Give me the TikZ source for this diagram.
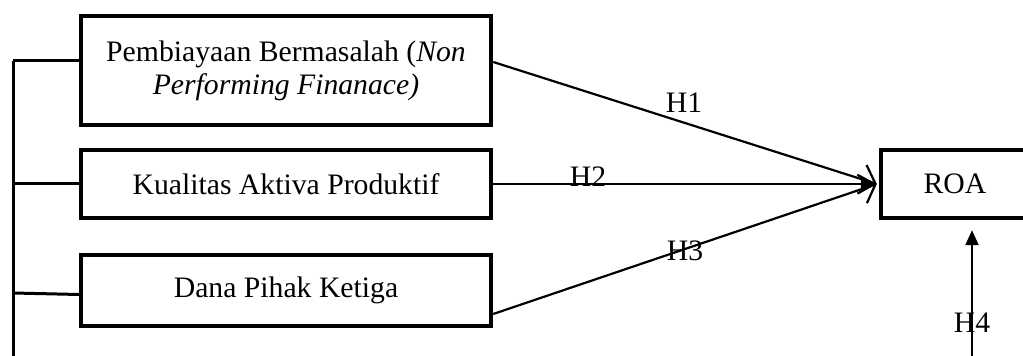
\documentclass[tikz,border=0pt]{standalone}
\usepackage{fontspec}
\setmainfont{Liberation Serif}
\usetikzlibrary{arrows.meta,calc}
\begin{document}
\begin{tikzpicture}[x=0.5pt,y=-0.5pt,
  font=\fontsize{14.85}{16.5}\selectfont,
  varbox/.style={draw,line width=2.2pt,rectangle,align=center,inner sep=0pt,outer sep=1.1pt},
  bus/.style={line width=1.5pt},
  hyp/.style={line width=1.1pt},
  openhead/.style={hyp,-{Straight Barb[length=7pt,width=15pt,line width=1.1pt]}},
  fullhead/.style={hyp,-{Latex[length=8pt,width=5pt]}},
  h4head/.style={hyp,-{Triangle[length=7.5pt,width=6.5pt]}},
  lab/.style={anchor=base,inner sep=0pt}]
\useasboundingbox (0,0) rectangle (1023,356);
\clip (0,0) rectangle (1023,356);
\node[varbox,minimum width=205pt,minimum height=54.5pt] (b1) at (286,70.5)
  {Pembiayaan Bermasalah (\textit{Non}\\\textit{Performing Finanace)}};
\node[varbox,minimum width=205pt,minimum height=34pt] (b2) at (286,184)
  {Kualitas Aktiva Produktif};
\node[varbox,minimum width=205pt,minimum height=35.5pt] (b3) at (286,290.5)
  {Dana Pihak Ketiga};
\node[varbox,minimum width=74pt,minimum height=34pt] (roa) at (955,184) {ROA};
% left bus
\coordinate (j1) at (13,61);
\coordinate (j3) at (13,293);
\coordinate (jb) at (13,362);
\draw[bus] (j1) -- (jb);
\draw[bus] (j1) -- (j1 -| b1.west);
\draw[bus] (b2.west -| j1) -- (b2.west);
\draw[bus] (j3) -- ([yshift=-2pt]b3.west);
% hypothesis arrows
\draw[openhead] ([yshift=4.25pt]b1.east) -- ([xshift=-1pt]roa.west);
\draw[fullhead] (b2.east) -- ([xshift=-1pt]roa.west);
\draw[openhead] ([yshift=-11.75pt]b3.east) -- ([xshift=-1pt]roa.west);
\coordinate (h4s) at (972,362);
\draw[h4head] (h4s) -- ($(h4s |- roa.south)+(0,10)$);
% labels
\node[lab] (l1) at (684,113) {H1};
\node[lab] (l2) at (588,187) {H2};
\node[lab] (l3) at (685,261) {H3};
\node[lab] (l4) at (972,333) {H4};
\end{tikzpicture}
\end{document}
